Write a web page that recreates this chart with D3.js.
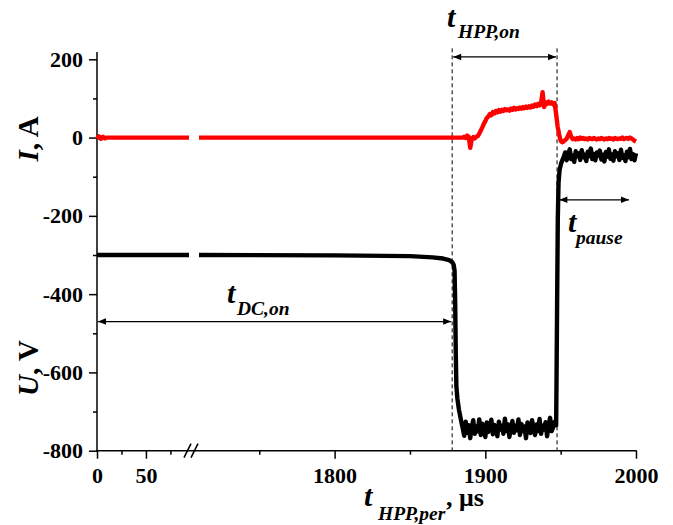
<!DOCTYPE html>
<html>
<head>
<meta charset="utf-8">
<script src="https://d3js.org/d3.v7.min.js"></script>
<style>
  body { margin: 0; background: #fff; }
  svg { display: block; background: #fff; }
  text { font-family: 'Liberation Serif', 'Times New Roman', serif; font-weight: bold; fill: #000; }
  .tick text { font-size: 22px; }
  .tick line, .axisline { stroke: #000; stroke-width: 1.5px; }
  .it { font-style: italic; }
</style>
</head>
<body>
<svg id="chart" width="673" height="525"></svg>
<script>
'use strict';

// broken time axis: 0..94 µs, then 1710..2000 µs
var leftDomain = [0, 94];
var rightDomain = [1710, 2000];
var xMajorLeft = [0, 50], xMinorLeft = [25, 75];
var xMajorRight = [1800, 1900, 2000], xMinorRight = [1750, 1850, 1950];
var yMajor = [-800, -600, -400, -200, 0, 200];
var yMinor = [-700, -500, -300, -100, 100];

// voltage U, V
var uLeftT = [0, 94];
var uLeftV = [-300, -300];
var uDcT = [1710, 1800, 1850, 1865, 1872, 1876, 1878, 1879, 1879.6];
var uDcV = [-300, -301, -303, -306, -309, -313, -318, -325, -340];
var uFallT = [1880, 1880.4, 1880.8, 1881.5, 1882.5, 1883.5, 1884.4];
var uFallV = [-420, -550, -635, -668, -695, -715, -732];
var uBandStart = 1885, uBandStep = 1;
var uBand = [-742,-762,-726,-754,-735,-768,-740,-722,-757,-738,
             -750,-720,-760,-731,-747,-765,-728,-752,-740,-721,
             -758,-734,-750,-763,-726,-746,-736,-757,-718,-750,
             -733,-765,-740,-724,-754,-736,-748,-720,-760,-732,
             -750,-738,-768,-728,-746,-755,-722,-742,-760,-733,
             -750,-719,-757,-736,-746,-727,-763,-734,-716,-750,
             -740,-726,-735];
var uRiseT = [1947.3, 1947.7, 1948.1, 1948.6, 1949.3, 1950.3, 1951.3];
var uRiseV = [-600, -400, -210, -115, -82, -66, -56];
var uPlatStart = 1952, uPlatStep = 1;
var uPlat = [-50,-38,-58,-42,-30,-55,-45,-62,-35,-48,
             -40,-57,-32,-50,-44,-60,-36,-47,-28,-55,
             -42,-58,-38,-46,-33,-56,-44,-61,-37,-49,
             -30,-54,-43,-59,-35,-48,-40,-57,-31,-52,
             -45,-60,-36,-50,-29,-55,-42,-58,-40];

// current I, A
var iLeftT = [0, 2, 4, 6, 8, 10, 94];
var iLeftV = [-3, 3, -3, 2, -2, 0, 0];
var iDcT = [1710, 1884];
var iDcV = [0, 0];
var iPulseStart = 1885, iPulseStep = 1;
var iPulse = [0, 2, -1, 5, 2, -26, -4, 1, -2, 2,
              4, 10, 18, 26, 35, 42, 50, 54, 60, 57,
              65, 62, 68, 64, 70, 66, 71, 68, 73, 70,
              72, 69, 74, 71, 76, 72, 75, 73, 77, 74,
              78, 75, 79, 76, 80, 77, 82, 79, 84, 80,
              86, 82, 88, 116, 78, 90, 86, 92, 87, 90,
              85, 88, 60, 28, 8, -8, -12, -10, -6, -3,
              6, 14, 2, -4, -2, -5, -1, -4, 0, -3,
              -1, -4, -2, -5, -1, -3, -4, -1, -3, -5,
              -2, -4, -1, -3, -5, -2, -4, -1, -3, -2,
              -5, -1, -3, -4, -2, -3, 0, -4, -2, -1,
              -3, 0, -2, -5, -8, -10];

// annotations: pulse edges and arrow levels
var eventTimes = [1878, 1947.6];
var dcArrow = { t0: 0, t1: 1878, v: -470 };
var hppArrow = { t0: 1878, t1: 1947.6, v: 206 };
var pauseArrow = { t0: 1948.5, t1: 1996, v: -159 };

var svg = d3.select('#chart');

var xLeft = d3.scaleLinear().domain(leftDomain).range([97, 189]);
var xRight = d3.scaleLinear().domain(rightDomain).range([199, 636]);
function x(t) { return t <= leftDomain[1] ? xLeft(t) : xRight(t); }
var y = d3.scaleLinear().domain([-800, 200]).range([450.7, 59.3]);
var y0 = y(-800);
var fmt = function(d) { return String(d); };

function zip(ts, vs) { return ts.map(function(t, i) { return [t, vs[i]]; }); }
function sampled(start, step, vs) { return vs.map(function(v, i) { return [start + i * step, v]; }); }

var defs = svg.append('defs');
['end', 'start'].forEach(function(k) {
  defs.append('marker')
    .attr('id', 'arr-' + k)
    .attr('viewBox', '0 -5 10 10')
    .attr('refX', k === 'end' ? 10 : 0).attr('refY', 0)
    .attr('markerWidth', 12).attr('markerHeight', 8)
    .attr('markerUnits', 'userSpaceOnUse')
    .attr('orient', 'auto')
    .append('path')
    .attr('d', k === 'end' ? 'M0,-4L10,0L0,4Z' : 'M10,-4L0,0L10,4Z')
    .attr('fill', '#000');
});

// axes
function xAxis(scale, major, minor) {
  svg.append('g').attr('transform', 'translate(0,' + y0 + ')')
    .call(d3.axisBottom(scale).tickValues(major).tickSize(8).tickPadding(9).tickFormat(fmt))
    .call(function(g) { g.select('.domain').remove(); });
  svg.append('g').attr('transform', 'translate(0,' + y0 + ')')
    .call(d3.axisBottom(scale).tickValues(minor).tickSize(4).tickFormat(''))
    .call(function(g) { g.select('.domain').remove(); });
}
xAxis(xLeft, xMajorLeft, xMinorLeft);
xAxis(xRight, xMajorRight, xMinorRight);

svg.append('g').attr('transform', 'translate(97,0)')
  .call(d3.axisLeft(y).tickValues(yMajor).tickSize(8).tickPadding(6).tickFormat(fmt))
  .call(function(g) { g.select('.domain').remove(); });
svg.append('g').attr('transform', 'translate(97,0)')
  .call(d3.axisLeft(y).tickValues(yMinor).tickSize(4).tickFormat(''))
  .call(function(g) { g.select('.domain').remove(); });

svg.selectAll('.tick text').style('font-family', "'Liberation Serif', 'Times New Roman', serif");

svg.append('line').attr('class', 'axisline')
  .attr('x1', 97).attr('x2', 97).attr('y1', 52).attr('y2', y0 + 0.75);
svg.append('line').attr('class', 'axisline')
  .attr('x1', 96.25).attr('x2', xRight(2000) + 0.75).attr('y1', y0).attr('y2', y0);
// break marks
[187, 194].forEach(function(bx) {
  svg.append('line').attr('class', 'axisline')
    .attr('x1', bx - 3).attr('y1', y0 + 7).attr('x2', bx + 4).attr('y2', y0 - 7);
});

// dashed event lines
svg.selectAll('.event').data(eventTimes).enter().append('line')
  .attr('x1', function(d) { return x(d); }).attr('x2', function(d) { return x(d); })
  .attr('y1', y(228)).attr('y2', y0)
  .attr('stroke', '#000').attr('stroke-width', 1).attr('stroke-dasharray', '4,3');

var line = d3.line().x(function(d) { return x(d[0]); }).y(function(d) { return y(d[1]); });

var uLeft = zip(uLeftT, uLeftV);
var uRight = zip(uDcT, uDcV)
  .concat(zip(uFallT, uFallV))
  .concat(sampled(uBandStart, uBandStep, uBand))
  .concat(zip(uRiseT, uRiseV))
  .concat(sampled(uPlatStart, uPlatStep, uPlat));
var iLeft = zip(iLeftT, iLeftV);
var iRight = zip(iDcT, iDcV).concat(sampled(iPulseStart, iPulseStep, iPulse));

[[uLeft, '#000'], [uRight, '#000'], [iLeft, '#ff0000'], [iRight, '#ff0000']].forEach(function(s) {
  svg.append('path').datum(s[0])
    .attr('d', line)
    .attr('fill', 'none')
    .attr('stroke', s[1])
    .attr('stroke-width', 4.4)
    .attr('stroke-linejoin', 'round');
});

// arrows
[dcArrow, hppArrow, pauseArrow].forEach(function(a) {
  svg.append('line')
    .attr('x1', x(a.t0) + 1).attr('x2', x(a.t1) - 1)
    .attr('y1', y(a.v)).attr('y2', y(a.v))
    .attr('stroke', '#000').attr('stroke-width', 1.2)
    .attr('marker-start', 'url(#arr-start)')
    .attr('marker-end', 'url(#arr-end)');
});

function tLabel(tx, ty, sx, sy, sub) {
  svg.append('text').attr('class', 'it').attr('x', tx).attr('y', ty).style('font-size', '30px').text('t');
  svg.append('text').attr('class', 'it').attr('x', sx).attr('y', sy).style('font-size', '19.5px').text(sub);
}
tLabel(447, 27, 458, 38, 'HPP,on');
tLabel(227, 303, 237, 315, 'DC,on');
tLabel(568, 232, 576, 244, 'pause');
tLabel(364, 506, 378, 520, 'HPP,per');
svg.append('text').attr('x', 446).attr('y', 506).style('font-size', '26px').text(', \u03bcs');

// y titles
function yTitle(cy, it, rest) {
  var t = svg.append('text')
    .attr('transform', 'translate(38,' + cy + ') rotate(-90)')
    .attr('text-anchor', 'middle')
    .style('font-size', '29px');
  t.append('tspan').attr('class', 'it').text(it);
  t.append('tspan').text(rest);
}
yTitle(139, 'I', ', A');
yTitle(368, 'U', ', V');
</script>
</body>
</html>
